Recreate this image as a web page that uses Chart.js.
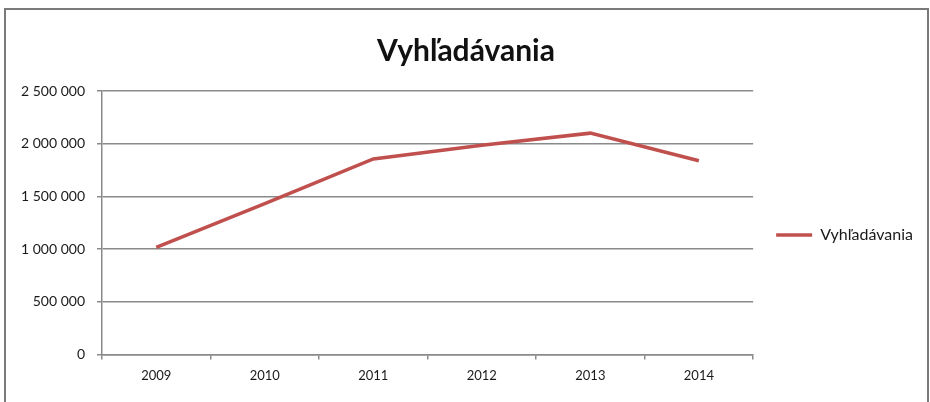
<!DOCTYPE html>
<html>
<head>
<meta charset="utf-8">
<script src="https://cdn.jsdelivr.net/npm/chart.js@4/dist/chart.umd.min.js"></script>
<style>
    html, body { margin: 0; padding: 0; background: #fff; }
    .wrap { position: relative; width: 930px; height: 402px; }
    .frame { position: absolute; left: 4px; top: 8px; right: 1px; bottom: -4px; border: 2px solid #7a7a7a; }
    canvas { position: absolute; left: 0; top: 0; }
</style>
</head>
<body>
<div class="wrap">
    <div class="frame"></div>
    <canvas id="chart" width="930" height="402"></canvas>
</div>
<script>
const years = ["2009", "2010", "2011", "2012", "2013", "2014"]
const searches = [1015000, 1430000, 1855000, 1985000, 2100000, 1838000]
const yTicks = [0, 500000, 1000000, 1500000, 2000000, 2500000]

const fmt = v => String(v).replace(/\B(?=(\d{3})+(?!\d))/g, " ")
const font = "Lato, 'Noto Sans', sans-serif"

new Chart("chart", {
    type: "line",
    data: {
        labels: years,
        datasets: [{
            label: "Vyhľadávania",
            data: searches,
            borderColor: "#c0504d",
            backgroundColor: "#c0504d",
            borderWidth: 3.5,
            pointRadius: 0,
            tension: 0
        }]
    },
    options: {
        responsive: false,
        animation: false,
        layout: { padding: { top: 33, right: 7, left: 9, bottom: 9 } },
        plugins: {
            title: {
                display: true,
                text: "Vyhľadávania",
                color: "#111",
                font: { family: font, size: 30, weight: "bold" },
                padding: { top: 0, bottom: 22 }
            },
            legend: {
                position: "right",
                // empty legend title only pushes the entry down a bit
                title: { display: true, text: "", font: { size: 10 }, padding: { top: 0, bottom: 32 } },
                labels: {
                    usePointStyle: true,
                    pointStyle: "line",
                    pointStyleWidth: 36,
                    color: "#1a1a1a",
                    padding: 23,
                    font: { family: font, size: 16 }
                }
            },
            tooltip: { enabled: false }
        },
        scales: {
            x: {
                offset: true,
                border: { color: "#8a8a8a", width: 1.5 },
                grid: { drawOnChartArea: false, offset: true, tickLength: 5, color: "#8a8a8a", lineWidth: 1.5 },
                ticks: { color: "#1a1a1a", padding: 9, font: { family: font, size: 13 } }
            },
            y: {
                min: 0,
                max: 2500000,
                afterBuildTicks: axis => { axis.ticks = yTicks.map(v => ({ value: v })) },
                border: { color: "#8a8a8a", width: 1.5 },
                grid: { color: "#8a8a8a", lineWidth: 1.5, tickLength: 5 },
                ticks: { color: "#1a1a1a", padding: 12, font: { family: font, size: 14 }, callback: v => fmt(v) }
            }
        }
    }
})
</script>
</body>
</html>
